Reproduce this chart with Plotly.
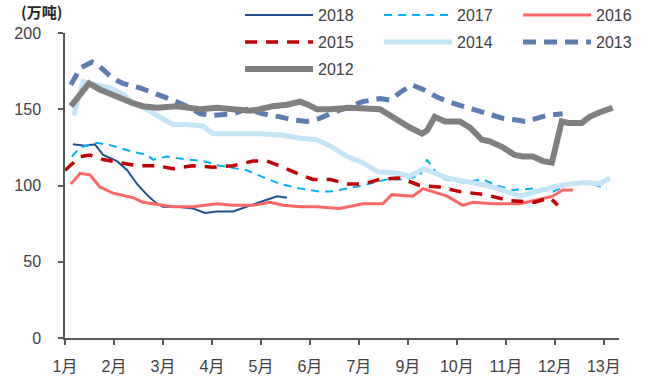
import plotly.graph_objects as go

# Weekly inventory series, x in months from the start of the year (0 = 1月)
x_2018 = [0.16, 0.41, 0.61, 0.78, 1.06, 1.27, 1.47, 1.67, 1.84, 2.00, 2.29, 2.61, 2.86, 3.10, 3.43, 3.71, 3.98, 4.33, 4.53]
y_2018 = [127, 126, 127, 120, 116, 110, 101, 94, 89, 86, 86, 85, 82, 83, 83, 86, 89, 93, 92]

x_2017 = [0.14, 0.31, 0.65, 0.98, 1.39, 1.67, 1.80, 2.08, 2.49, 2.82, 3.16, 3.51, 3.71, 4.08, 4.39, 4.80, 5.20, 5.41,
          5.76, 6.08, 6.57, 6.90, 7.24, 7.39, 7.59, 7.76, 8.12, 8.53, 8.82, 9.14, 9.55, 9.96, 10.24, 10.65, 11.06]
y_2017 = [119, 125, 128, 126, 122, 120, 117, 119, 117, 116, 113, 111, 110, 105, 101, 98, 96, 96,
          98, 100, 104, 104, 106, 117, 108, 104, 102, 104, 100, 97, 98, 96, 100, 102, 98]

x_2016 = [0.12, 0.31, 0.51, 0.71, 0.98, 1.27, 1.39, 1.59, 1.94, 2.20, 2.61, 3.10, 3.43, 3.84, 4.18, 4.45, 4.80,
          5.14, 5.61, 6.08, 6.49, 6.67, 7.10, 7.31, 7.80, 8.12, 8.33, 8.73, 9.29, 9.55, 9.96, 10.16, 10.37]
y_2016 = [101, 108, 107, 99, 95, 93, 92, 89, 87, 86, 86, 88, 87, 87, 89, 87, 86,
          86, 85, 88, 88, 94, 93, 98, 93, 87, 89, 88, 88, 90, 93, 97, 97]

x_2015 = [0.00, 0.31, 0.51, 0.78, 1.12, 1.47, 1.88, 2.20, 2.61, 3.02, 3.43, 3.84, 4.12, 4.45, 4.80, 5.06, 5.41,
          5.76, 6.08, 6.43, 6.84, 7.24, 7.65, 8.06, 8.57, 9.08, 9.59, 9.90, 10.06]
y_2015 = [110, 119, 120, 117, 115, 113, 113, 111, 113, 112, 113, 116, 116, 112, 107, 104, 104,
          101, 101, 104, 105, 100, 99, 96, 94, 90, 89, 92, 87]

x_2014 = [0.18, 0.37, 0.65, 0.92, 1.18, 1.39, 1.67, 1.94, 2.20, 2.49, 2.82, 3.02, 3.43, 3.98, 4.45, 4.80, 5.14,
          5.41, 5.76, 6.08, 6.39, 6.78, 7.04, 7.31, 7.80, 8.27, 8.61, 8.94, 9.29, 9.63, 9.96, 10.31, 10.65, 10.92, 11.12]
y_2014 = [146, 168, 166, 164, 160, 154, 150, 145, 140, 140, 139, 134, 134, 134, 133, 131, 130,
          126, 119, 115, 109, 108, 106, 111, 105, 102, 100, 97, 93, 96, 99, 101, 102, 101, 105]

x_2013 = [0.12, 0.31, 0.55, 0.71, 0.98, 1.18, 1.53, 1.88, 2.20, 2.49, 2.76, 3.02, 3.43, 3.71, 4.04, 4.39, 4.65,
          4.94, 5.20, 5.41, 5.76, 6.08, 6.43, 6.63, 6.84, 7.08, 7.31, 7.59, 7.92, 8.33, 8.61, 8.94, 9.22, 9.39,
          9.63, 9.84, 10.16]
y_2013 = [166, 177, 181, 178, 170, 167, 164, 160, 156, 152, 147, 146, 147, 150, 147, 145, 143,
          142, 144, 147, 151, 155, 157, 156, 161, 166, 163, 158, 154, 150, 147, 144, 143, 142,
          144, 146, 147]

x_2012 = [0.12, 0.49, 0.71, 1.06, 1.39, 1.59, 1.88, 2.29, 2.76, 3.10, 3.43, 3.78, 3.98, 4.24, 4.53, 4.80, 4.96,
          5.14, 5.41, 5.82, 6.43, 6.78, 7.04, 7.29, 7.39, 7.55, 7.76, 8.06, 8.27, 8.51, 8.67, 8.94, 9.18, 9.35,
          9.55, 9.76, 9.94, 10.14, 10.27, 10.55, 10.71, 10.92, 11.18]
y_2012 = [152, 167, 163, 158, 154, 152, 151, 152, 150, 151, 150, 149, 150, 152, 153, 155, 153,
          150, 150, 151, 150, 143, 138, 134, 136, 145, 142, 142, 138, 130, 129, 125, 120, 119,
          119, 116, 115, 142, 141, 141, 145, 148, 151]

month_ticks = list(range(12))
month_labels = ["1月", "2月", "3月", "4月", "5月", "6月", "7月", "9月", "10月", "11月", "12月", "13月"]
y_ticks = [0, 50, 100, 150, 200]

FONT = "Liberation Sans, Arial, Noto Sans CJK SC, sans-serif"
AXIS_COLOR = "#595959"
TEXT_COLOR = "#404040"

# name, x, y, colour, width, dash, legend row, legend rank
series = [
    ("2018", x_2018, y_2018, "#1f4e8c", 2, "solid", "legend", 1),
    ("2017", x_2017, y_2017, "#00b0f0", 2, "8px,6px", "legend", 2),
    ("2016", x_2016, y_2016, "#ff6666", 3, "solid", "legend", 3),
    ("2015", x_2015, y_2015, "#c00000", 3.5, "12px,9px", "legend2", 4),
    ("2014", x_2014, y_2014, "#c3e5f7", 5, "solid", "legend2", 5),
    ("2013", x_2013, y_2013, "#5b7db1", 5, "13px,8px", "legend2", 6),
    ("2012", x_2012, y_2012, "#808080", 6, "solid", "legend3", 7),
]

fig = go.Figure()
for name, xs, ys, color, width, dash, leg, rank in series:
    fig.add_trace(go.Scatter(
        x=xs, y=ys, name=name, mode="lines",
        line=dict(color=color, width=width, dash=dash),
        legend=leg, legendrank=rank,
    ))

legend_common = dict(
    orientation="h", xanchor="left", yanchor="middle", x=0.316,
    itemwidth=68, entrywidth=56, entrywidthmode="pixels",
    font=dict(family=FONT, size=16, color=TEXT_COLOR),
    bgcolor="rgba(0,0,0,0)", borderwidth=0, itemclick=False,
)

fig.update_layout(
    width=652, height=376,
    margin=dict(l=65, r=33, t=33, b=38, autoexpand=False),
    paper_bgcolor="white", plot_bgcolor="white",
    showlegend=True,
    legend=dict(legend_common, y=1.059),
    legend2=dict(legend_common, y=0.970),
    legend3=dict(legend_common, y=0.882),
    xaxis=dict(
        range=[0, 11.31], tickmode="array", tickvals=month_ticks, ticktext=month_labels,
        showline=True, linecolor=AXIS_COLOR, linewidth=1.5,
        ticks="outside", ticklen=5, tickcolor=AXIS_COLOR, tickwidth=1.5,
        showgrid=False, zeroline=False, ticklabelstandoff=8,
        tickfont=dict(family=FONT, size=16, color=TEXT_COLOR),
    ),
    yaxis=dict(
        range=[0, 200], tickmode="array", tickvals=y_ticks,
        showline=True, linecolor=AXIS_COLOR, linewidth=1.5,
        ticks="outside", ticklen=5, tickcolor=AXIS_COLOR, tickwidth=1.5,
        showgrid=False, zeroline=False, ticklabelstandoff=14,
        tickfont=dict(family=FONT, size=16, color=TEXT_COLOR),
    ),
    annotations=[dict(
        text="<b>(万吨)</b>", xref="paper", yref="paper", x=-0.083, y=1.072,
        xanchor="left", yanchor="middle", showarrow=False,
        font=dict(family="Noto Sans CJK SC, sans-serif", size=15, color="#262626"),
    )],
)

fig.write_html("out.html")
